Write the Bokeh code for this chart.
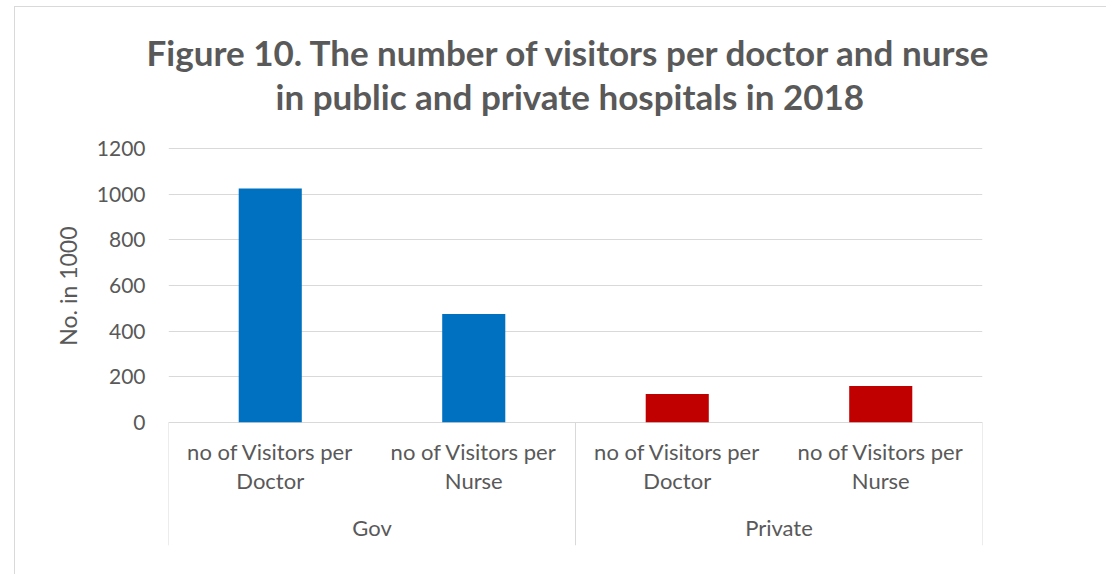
from bokeh.plotting import figure
from bokeh.models import Range1d, FixedTicker, Title, ColumnDataSource
from bokeh.core.properties import value
from bokeh.embed import file_html
from bokeh.resources import INLINE

# ---- data ----
title_lines = ["Figure 10. The number of visitors per doctor and nurse",
               "in public and private hospitals in 2018"]
groups = ["Gov", "Gov", "Private", "Private"]
subcats = ["no of Visitors per Doctor", "no of Visitors per Nurse",
           "no of Visitors per Doctor", "no of Visitors per Nurse"]
values = [1025, 475, 124, 159]
y_ticks = [0, 200, 400, 600, 800, 1000, 1200]
y_label = "No. in 1000"

# ---- styles ----
group_colors = {"Gov": "#0070C0", "Private": "#C00000"}
TXT = "#595959"
GRID = "#d9d9d9"
FONT = "Lato"

n = len(values)
xs = [i + 0.5 for i in range(n)]
src = ColumnDataSource(dict(x=xs, top=values, color=[group_colors[g] for g in groups],
                            l1=[s.rsplit(" ", 1)[0] for s in subcats],
                            l2=[s.rsplit(" ", 1)[1] for s in subcats]))

p = figure(width=1092, height=568, x_range=Range1d(0, n), y_range=Range1d(-540, 1340),
           output_backend="svg", toolbar_location=None,
           min_border_left=153, min_border_right=125, min_border_top=109, min_border_bottom=30)
p.margin = (6, 0, 0, 14)
p.styles = {"border-left": "1px solid #d9d9d9", "border-top": "1px solid #d9d9d9"}

p.outline_line_color = None
p.xaxis.visible = False
p.xgrid.visible = False
p.ygrid.ticker = FixedTicker(ticks=y_ticks)
p.ygrid.grid_line_color = GRID
p.ygrid.grid_line_width = 1

ax = p.yaxis[0]
ax.ticker = FixedTicker(ticks=y_ticks)
ax.axis_line_color = None
ax.major_tick_line_color = None
ax.minor_tick_line_color = None
ax.major_tick_out = 0
ax.major_label_standoff = 23
ax.major_label_text_font = FONT
ax.major_label_text_font_size = "21px"
ax.major_label_text_color = TXT

# title: p.title is the outer line, the added Title sits nearest the plot
title_style = dict(text_font=FONT, text_font_size="35px", text_font_style="bold", text_color=TXT)
p.title.text = title_lines[0]
p.title.align = "left"
p.title.offset = -22
p.title.standoff = 0
p.title.text_font = FONT
p.title.text_font_size = "35px"
p.title.text_font_style = "bold"
p.title.text_color = TXT
p.add_layout(Title(text=title_lines[1], align="left", offset=107, standoff=0, **title_style), "above")

# y-axis label as a left-side title
p.add_layout(Title(text=y_label, align="right", offset=110, text_font=FONT,
                   text_font_size="23px", text_font_style="normal", text_color=TXT,
                   standoff=24), "left")

# bars
p.vbar(x="x", top="top", width=0.31, bottom=0, fill_color="color", line_color=None, source=src)

# category labels
p.text(x="x", y=-127, text="l1", source=src, text_align="center", text_baseline="middle",
       text_font=value(FONT), text_font_size="22px", text_color=TXT)
p.text(x="x", y=-254, text="l2", source=src, text_align="center", text_baseline="middle",
       text_font=value(FONT), text_font_size="22px", text_color=TXT)

# group labels and separators
uniq = []
for g in groups:
    if g not in uniq:
        uniq.append(g)
gx = [sum(x for x, gg in zip(xs, groups) if gg == g) / groups.count(g) for g in uniq]
p.text(x=gx, y=[-460] * len(uniq), text=uniq, text_align="center", text_baseline="middle",
       text_font=value(FONT), text_font_size="22px", text_color=TXT)

bounds = [0] + [i for i in range(1, n) if groups[i] != groups[i - 1]] + [n]
p.segment(x0=bounds, y0=[0] * len(bounds), x1=bounds, y1=[-540] * len(bounds),
          line_color=GRID, line_width=1)

open("out.html", "w").write(file_html(p, INLINE))
